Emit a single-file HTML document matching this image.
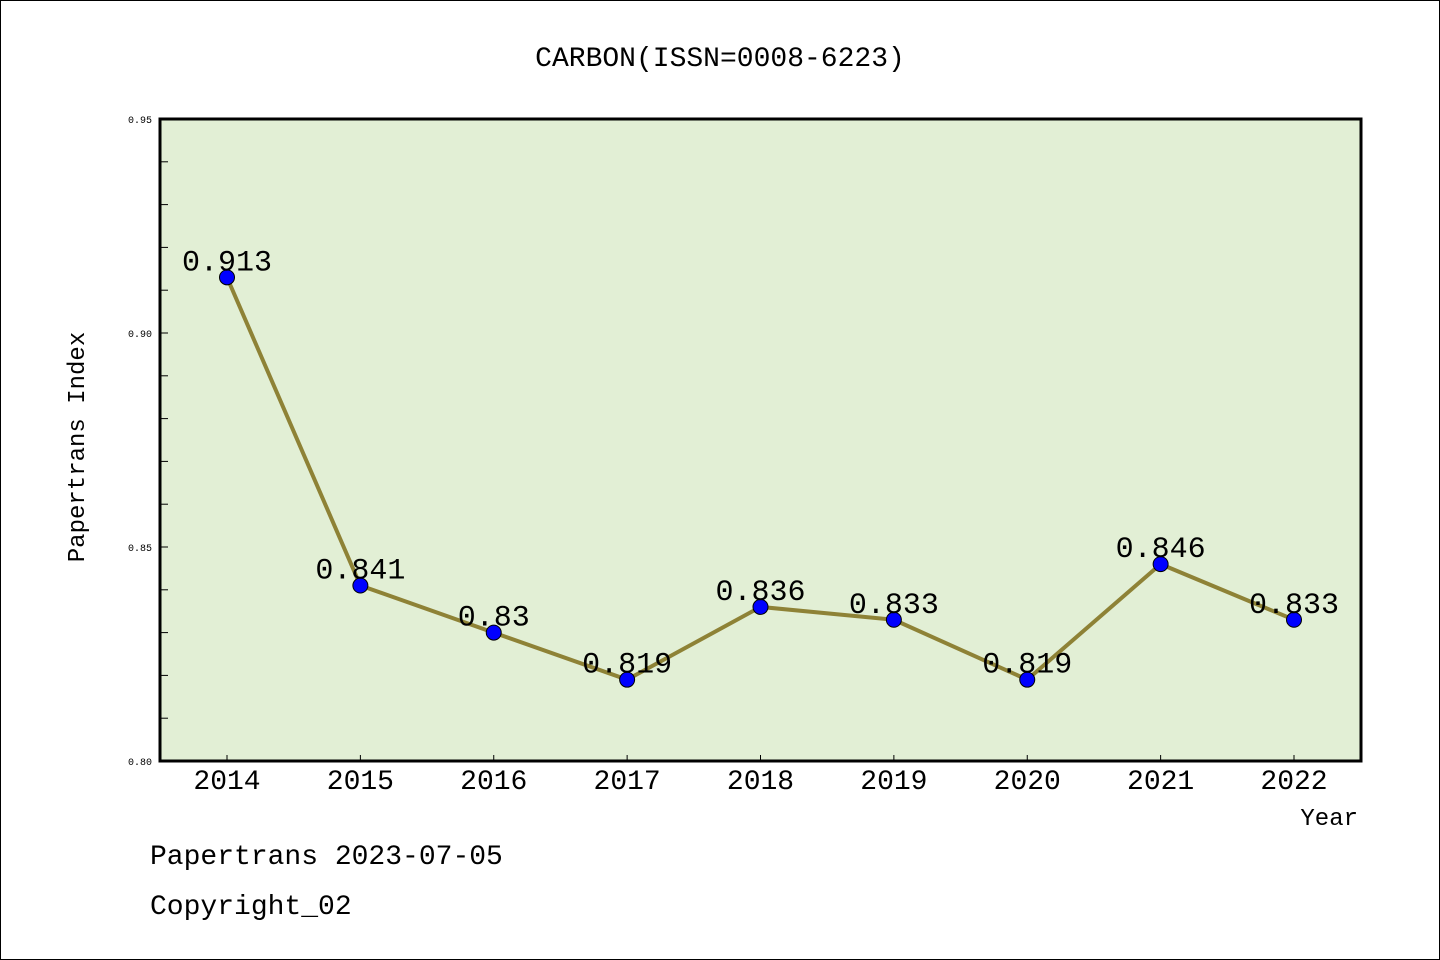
<!DOCTYPE html>
<html><head><meta charset="utf-8"><style>
body{margin:0;background:#fff}
svg{display:block}
text{font-family:"Liberation Mono","Noto Sans CJK SC",monospace}
</style></head><body>
<svg width="1440" height="960" xmlns="http://www.w3.org/2000/svg">
<rect x="0.5" y="0.5" width="1439" height="959" fill="#fff" stroke="#000"/>
<text x="720" y="66" font-size="28" text-anchor="middle">CARBON(ISSN=0008-6223)</text>
<rect x="160" y="119" width="1201" height="642" fill="#e2efd5"/>
<g id="ticks"></g>
<g id="series"></g>
<rect x="160" y="119" width="1201" height="642" fill="none" stroke="#000" stroke-width="3"/>
<text transform="translate(84,447) rotate(-90)" font-size="24" text-anchor="middle">Papertrans Index</text>
<text x="1358" y="825" font-size="24" text-anchor="end">Year</text>
<text x="150" y="864" font-size="28">Papertrans 2023-07-05</text>
<text x="150" y="914" font-size="28">Copyright_02</text>
</svg>
<script>
const years=["2014","2015","2016","2017","2018","2019","2020","2021","2022"];
const values=[0.913,0.841,0.83,0.819,0.836,0.833,0.819,0.846,0.833];
const labels=["0.913","0.841","0.83","0.819","0.836","0.833","0.819","0.846","0.833"];
const yTicks=["0.80","0.85","0.90","0.95"];
const ns="http://www.w3.org/2000/svg";
const yMin=0.80,yMax=0.95;
function yS(v){return 761-(v-yMin)/(yMax-yMin)*642;}
function xS(i){return 227+i*133.375;}
function mk(t,a,p){const e=document.createElementNS(ns,t);for(const k in a)e.setAttribute(k,a[k]);p.appendChild(e);return e;}
const tg=document.getElementById('ticks');
for(let k=0;k<=15;k++){const v=yMin+k*0.01;const y=yS(v);
 const l=mk('line',{x1:160,x2:168,y1:y,y2:y,stroke:'#000','stroke-width':1},tg);
 
 }
yTicks.forEach(t=>{const e=mk('text',{x:152,y:yS(parseFloat(t))+4,'font-size':10,'text-anchor':'end'},tg);e.textContent=t;
 
 });
years.forEach((yr,i)=>{const x=xS(i);
 const l=mk('line',{x1:x,x2:x,y1:761,y2:755,stroke:'#000','stroke-width':1},tg);
 
 
 const t=mk('text',{x:x,y:789,'font-size':28,'text-anchor':'middle'},tg);t.textContent=yr;
 
 });
const sg=document.getElementById('series');
const pl=mk('polyline',{points:values.map((v,i)=>xS(i)+','+yS(v)).join(' '),fill:'none',stroke:'#8e8236','stroke-width':4},sg);


values.forEach((v,i)=>{
 const c=mk('circle',{cx:xS(i),cy:yS(v),r:7.5,fill:'#0000ff',stroke:'#000','stroke-width':1},sg);
 
 
 const t=mk('text',{x:xS(i),y:yS(v)-7,'font-size':30,'text-anchor':'middle'},sg);t.textContent=labels[i];
 
 });
</script>
</body></html>
